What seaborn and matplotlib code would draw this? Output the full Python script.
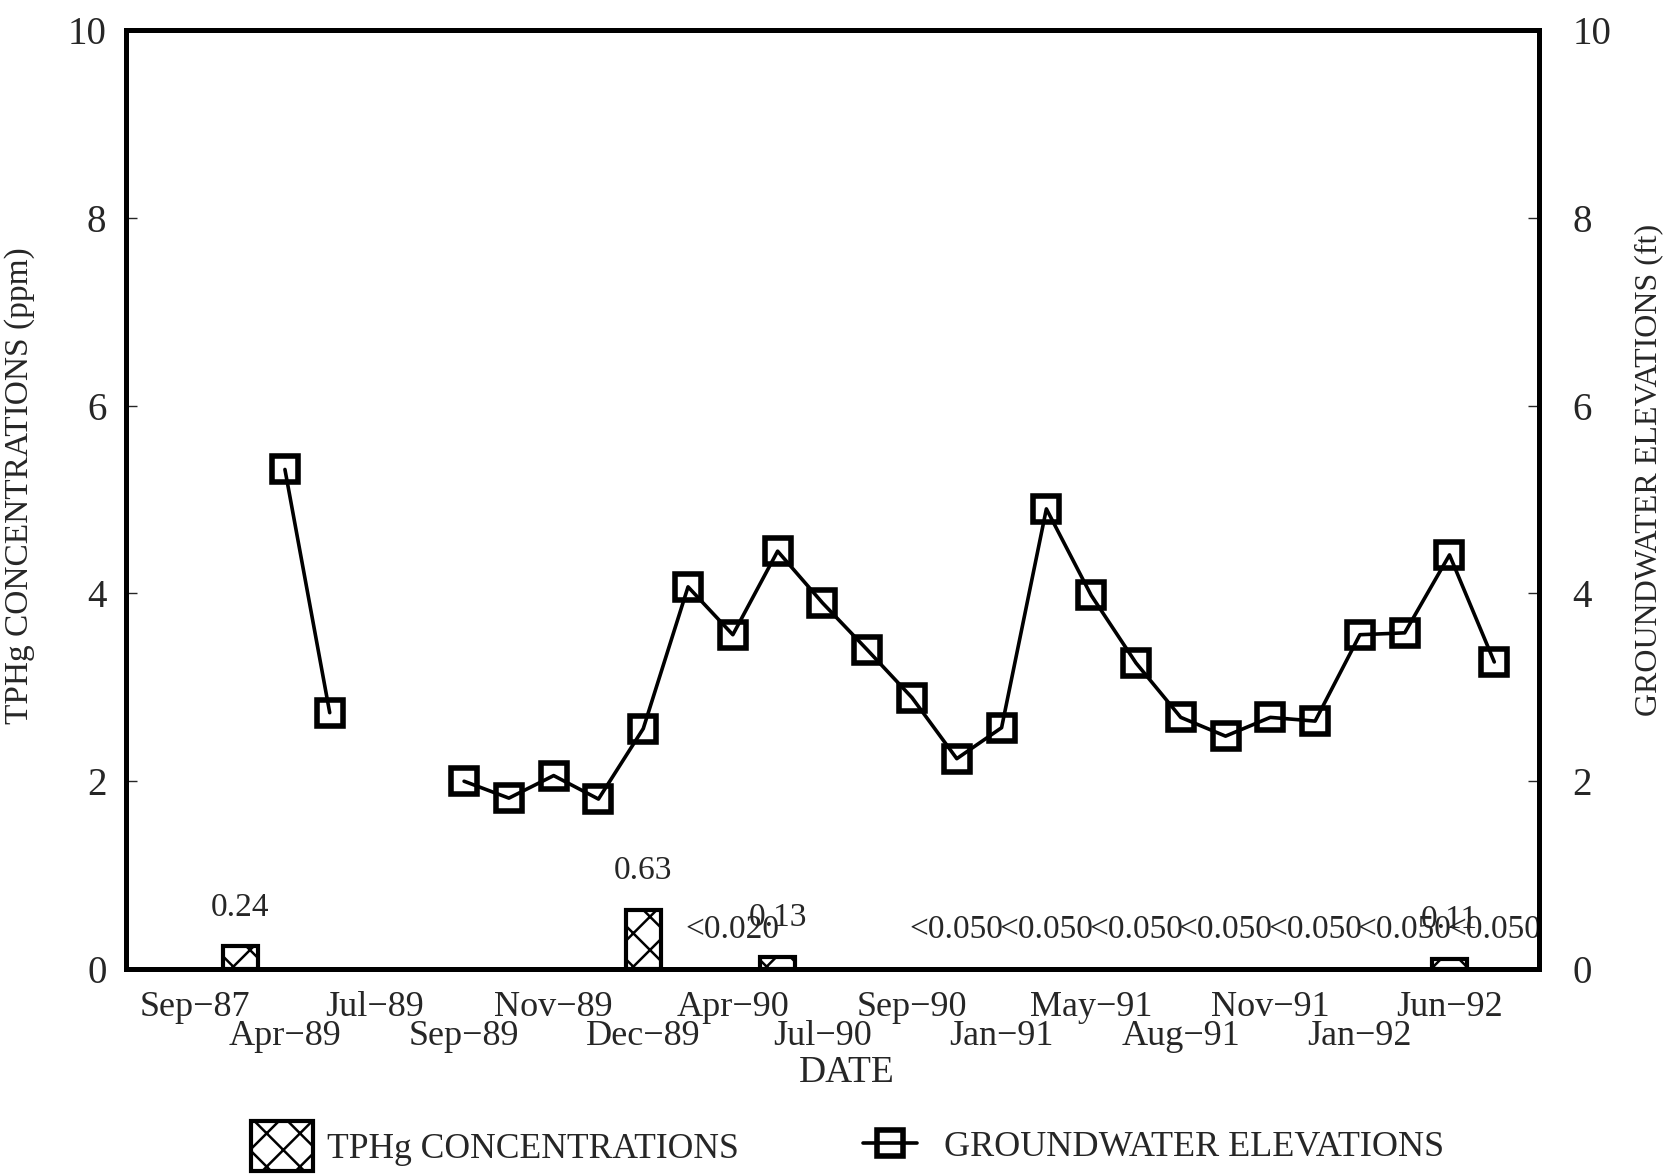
import numpy as np
import pandas as pd
import matplotlib
matplotlib.use("Agg")
import matplotlib.pyplot as plt
from matplotlib.patches import Patch
from matplotlib.lines import Line2D
import seaborn as sns

# Sampling events, one slot per event (only every other event is labelled)
n_events = 30
major_ticks = [0, 4, 8, 12, 16, 20, 24, 28]
major_labels = ["Sep−87", "Jul−89", "Nov−89", "Apr−90", "Sep−90", "May−91", "Nov−91", "Jun−92"]
minor_ticks = [2, 6, 10, 14, 18, 22, 26]
minor_labels = ["Apr−89", "Sep−89", "Dec−89", "Jul−90", "Jan−91", "Aug−91", "Jan−92"]

# TPHg concentrations (ppm), detected results
tphg_events = [1, 10, 13, 28]
tphg_values = [0.24, 0.63, 0.13, 0.11]

# Non-detect results (reporting limits)
nd_events = [12, 17, 19, 21, 23, 25, 27, 29]
nd_labels = ["<0.020", "<0.050", "<0.050", "<0.050", "<0.050", "<0.050", "<0.050", "<0.050"]

# Groundwater elevations (ft); NaN where not measured
elevation = [np.nan, np.nan, 5.32, 2.73, np.nan, np.nan, 2.00, 1.82, 2.06, 1.81,
             2.56, 4.07, 3.56, 4.45, 3.90, 3.40, 2.89, 2.24, 2.57, 4.90,
             3.98, 3.26, 2.68, 2.48, 2.68, 2.64, 3.56, 3.58, 4.41, 3.27]

sns.set_theme(style="white")
plt.rcParams["font.family"] = ["Liberation Serif", "DejaVu Serif"]
plt.rcParams["hatch.linewidth"] = 0.9
plt.rcParams["hatch.color"] = "black"

FS = 12      # value labels, axis titles
FS_TICK = 13
FS_Y = 14

fig = plt.figure(figsize=(8.35, 5.88), dpi=200)
ax = fig.add_axes([0.0754, 0.176, 0.8462, 0.7985])

# Bars
tphg_full = np.full(n_events, np.nan)
for e, v in zip(tphg_events, tphg_values):
    tphg_full[e] = v
bar_df = pd.DataFrame({"event": np.arange(n_events), "tphg": tphg_full})
sns.barplot(data=bar_df, x="event", y="tphg", order=list(range(n_events)),
            color="white", edgecolor="black", linewidth=1.5, width=0.78,
            saturation=1, errorbar=None, ax=ax)
for p in ax.patches:
    p.set_hatch("xx")
    p.set_facecolor("white")

# Value labels
for e, v in zip(tphg_events, tphg_values):
    ax.annotate(f"{v:.2f}", (e, v), xytext=(0, 14), textcoords="offset points",
                ha="center", va="center", fontsize=FS)
for e, t in zip(nd_events, nd_labels):
    ax.annotate(t, (e, 0), xytext=(0, 14), textcoords="offset points",
                ha="center", va="center", fontsize=FS)

# Groundwater elevations on the secondary axis
ax2 = ax.twinx()
seg = np.cumsum(np.isnan(np.array(elevation, dtype=float)))
line_df = pd.DataFrame({"event": np.arange(n_events), "elev": elevation, "seg": seg}).dropna()
sns.lineplot(data=line_df, x="event", y="elev", units="seg", estimator=None,
             color="black", lw=1.3, marker="s", markersize=9.5, markerfacecolor="none",
             markeredgecolor="black", markeredgewidth=2.0, legend=False, ax=ax2)

for a in (ax, ax2):
    a.set_xlim(-1.55, 30.0)
    a.set_ylim(0, 10)
    a.set_yticks([0, 2, 4, 6, 8, 10])
    for s in a.spines.values():
        s.set_linewidth(1.8)
        s.set_color("black")
        s.set_visible(True)

ax.set_xticks(major_ticks)
ax.set_xticklabels(major_labels, fontsize=FS_TICK)
ax.set_xticks(minor_ticks, minor=True)
ax.set_xticklabels(minor_labels, minor=True, fontsize=FS_TICK)
ax.tick_params(axis="x", which="major", length=0, pad=8)
ax.tick_params(axis="x", which="minor", length=0, pad=18.5)
ax.tick_params(axis="y", direction="in", length=4, width=0.5, pad=7, labelsize=FS_Y)
ax2.tick_params(axis="y", direction="in", length=4, width=0.5, pad=12, labelsize=FS_Y)
ax.set_yticklabels(["0", "2", "4", "6", "8", "10"])
ax2.set_yticklabels(["0", "2", "4", "6", "8", "10"])

ax.set_xlabel("")
ax2.set_xlabel("")
ax.set_ylabel("TPHg CONCENTRATIONS (ppm)", fontsize=FS)
ax2.set_ylabel("GROUNDWATER ELEVATIONS (ft)", fontsize=11.5)
ax.yaxis.set_label_coords(-0.0644, 0.515)
ax2.yaxis.set_label_coords(1.067, 0.532)
ax.grid(False)
ax2.grid(False)

fig.text(847 / 1670, 1 - 1073 / 1176, "DATE", ha="center", va="center", fontsize=13.5)

# Legend entries
h1 = Patch(facecolor="white", edgecolor="black", hatch="xx", linewidth=1.5)
h2 = Line2D([], [], color="black", lw=1.3, marker="s", markersize=9.5,
            markerfacecolor="none", markeredgecolor="black", markeredgewidth=2.0)
fig.legend(handles=[h1], labels=["TPHg CONCENTRATIONS"], loc="center left",
           bbox_to_anchor=(251 / 1670, 1 - 1146 / 1176), frameon=False, fontsize=12.8,
           handlelength=1.75, handleheight=1.75, handletextpad=0.4, borderpad=0,
           borderaxespad=0)
fig.legend(handles=[h2], labels=["GROUNDWATER ELEVATIONS"], loc="center left",
           bbox_to_anchor=(863 / 1670, 1 - 1147 / 1176), frameon=False, fontsize=13,
           handlelength=1.5, handletextpad=0.75, borderpad=0, borderaxespad=0)

fig.savefig("out.png", dpi=200, facecolor="white")
